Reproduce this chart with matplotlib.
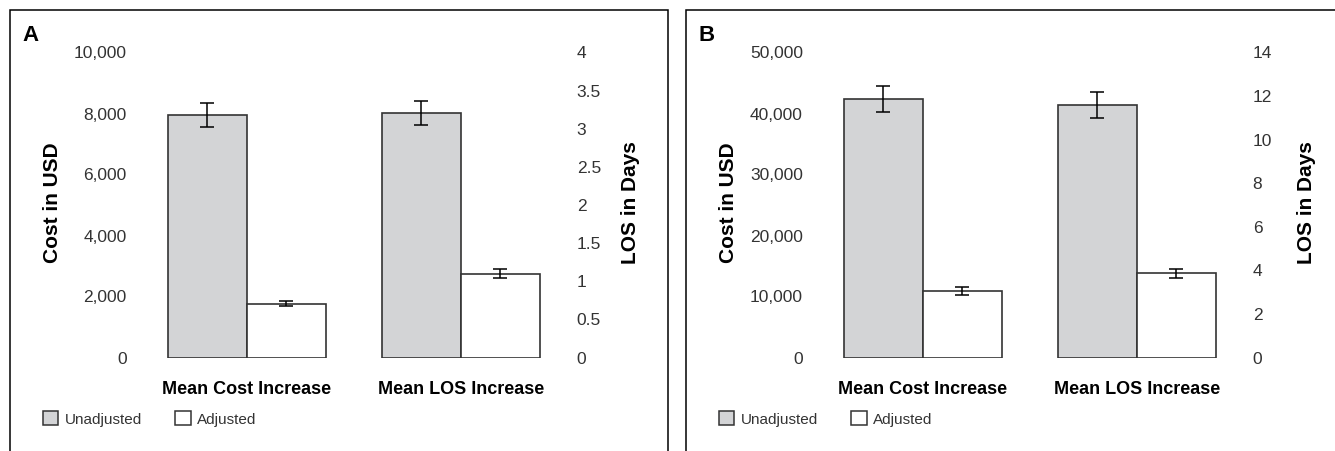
import matplotlib
matplotlib.use("Agg")
import matplotlib.pyplot as plt
from matplotlib.patches import Patch, Rectangle

plt.rcParams['font.family'] = ['Liberation Sans', 'DejaVu Sans']

W, H = 1335, 451

categories = ['Mean Cost Increase', 'Mean LOS Increase']
series = ['Unadjusted', 'Adjusted']
colors = ['#d3d4d6', 'white']

# panel A
cost_a = [7950, 1760]
cost_err_a = [380, 85]
los_a = [3.21, 1.10]
los_err_a = [0.16, 0.055]
cost_ticks_a = [0, 2000, 4000, 6000, 8000, 10000]
los_ticks_a = [0, 0.5, 1, 1.5, 2, 2.5, 3, 3.5, 4]

# panel B
cost_b = [42350, 10850]
cost_err_b = [2100, 650]
los_b = [11.60, 3.87]
los_err_b = [0.59, 0.215]
cost_ticks_b = [0, 10000, 20000, 30000, 40000, 50000]
los_ticks_b = [0, 2, 4, 6, 8, 10, 12, 14]

fig = plt.figure(figsize=(W / 100, H / 100), dpi=100)


def fx(p):
    return p / W


def fy(p):
    return 1 - p / H


def panel(ox, letter, cost, cost_err, los, los_err, cost_ticks, los_ticks, x0, x1):
    # frame round the panel (open at bottom / right edge of picture)
    fig.add_artist(Rectangle((fx(ox), fy(470)), fx(658), 460 / H, transform=fig.transFigure,
                             fill=False, ec='black', lw=1.1))
    fig.text(fx(ox + 12), fy(41), letter, fontsize=16, fontweight='bold', va='baseline')

    ax = fig.add_axes([fx(x0), (H - 357.5) / H, fx(x1 - x0), 305 / H])
    ax2 = ax.twinx()
    w = 0.369
    ekw = dict(ecolor='black', elinewidth=1.1, capthick=1.1)
    for i in range(2):
        ax.bar(0 + (i - 0.5) * w, cost[i], w, yerr=cost_err[i], color=colors[i],
               edgecolor='#333333', linewidth=1.2, capsize=4.7, error_kw=ekw)
        ax2.bar(1 + (i - 0.5) * w, los[i], w, yerr=los_err[i], color=colors[i],
                edgecolor='#333333', linewidth=1.2, capsize=4.7, error_kw=ekw)
    ax.set_xlim(-0.5, 1.5)
    ax.set_ylim(cost_ticks[0], cost_ticks[-1])
    ax2.set_ylim(los_ticks[0], los_ticks[-1])
    ax.set_yticks(cost_ticks, [f'{v:,}' for v in cost_ticks])
    ax2.set_yticks(los_ticks, [f'{v:g}' for v in los_ticks])
    ax.set_xticks([0, 1], categories, fontsize=13, fontweight='bold')
    ax.tick_params(axis='x', length=0, pad=17)
    ax.tick_params(axis='y', length=0, pad=9.5, labelsize=12.5, labelcolor='#333333')
    ax2.tick_params(axis='y', length=0, pad=6.5, labelsize=12.5, labelcolor='#333333')
    for a in (ax, ax2):
        for s in a.spines.values():
            s.set_visible(False)
        a.patch.set_visible(False)
    ax.set_ylabel('Cost in USD', fontsize=15, fontweight='bold', va='center')
    ax.yaxis.set_label_coords((ox + 42.5 - x0) / (x1 - x0), 0.507)
    ax2.set_ylabel('LOS in Days', fontsize=15, fontweight='bold', va='center')
    ax2.yaxis.set_label_coords((x1 + 62.5 - x0) / (x1 - x0), 0.507)

    handles = [Patch(facecolor=c, edgecolor='#333333', linewidth=1.1) for c in colors]
    fig.legend(handles, series, loc='center left', bbox_to_anchor=(fx(ox + 33), fy(419)),
               ncol=2, fontsize=11, frameon=False, borderpad=0, borderaxespad=0,
               handlelength=1.0, handleheight=1.0, handletextpad=0.4, columnspacing=2.2,
               labelcolor='#333333')


panel(10, 'A', cost_a, cost_err_a, los_a, los_err_a, cost_ticks_a, los_ticks_a, 139.7, 567.7)
panel(686, 'B', cost_b, cost_err_b, los_b, los_err_b, cost_ticks_b, los_ticks_b, 816, 1243.7)

fig.savefig('out.png', dpi=100)
